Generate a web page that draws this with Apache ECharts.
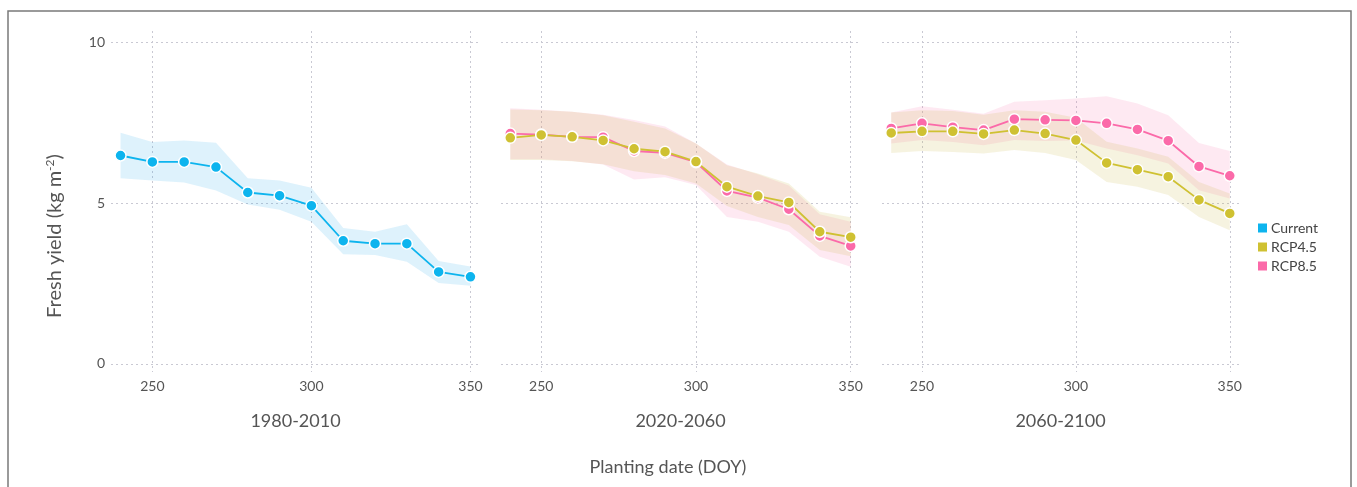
<!DOCTYPE html>
<html>
<head>
<meta charset="utf-8">
<script src="https://cdn.jsdelivr.net/npm/echarts@6/dist/echarts.min.js"></script>
<style>
  html, body { margin: 0; padding: 0; background: #fff; }
  #chart { width: 1357px; height: 487px; }
</style>
</head>
<body>
<div id="chart"></div>
<script>
// Planting dates (day of year)
const doy = [240, 250, 260, 270, 280, 290, 300, 310, 320, 330, 340, 350];

// 1980-2010, current climate
const currentMean = [6.48, 6.28, 6.28, 6.12, 5.33, 5.23, 4.92, 3.83, 3.74, 3.74, 2.86, 2.71];
const currentLow  = [5.77, 5.70, 5.64, 5.39, 4.96, 4.79, 4.42, 3.41, 3.39, 3.18, 2.52, 2.43];
const currentHigh = [7.19, 6.90, 6.95, 6.88, 5.77, 5.70, 5.48, 4.23, 4.11, 4.34, 3.20, 3.03];

// 2020-2060
const rcp45MidMean = [7.03, 7.12, 7.06, 6.95, 6.69, 6.60, 6.29, 5.51, 5.22, 5.02, 4.11, 3.94];
const rcp45MidLow  = [6.34, 6.34, 6.30, 6.21, 5.99, 5.87, 5.61, 4.91, 4.57, 4.32, 3.54, 3.35];
const rcp45MidHigh = [7.91, 7.89, 7.84, 7.73, 7.53, 7.32, 6.85, 6.18, 5.92, 5.61, 4.73, 4.56];
const rcp85MidMean = [7.16, 7.13, 7.06, 7.05, 6.62, 6.56, 6.27, 5.38, 5.17, 4.81, 3.98, 3.67];
const rcp85MidLow  = [6.36, 6.36, 6.31, 6.20, 5.73, 5.80, 5.56, 4.57, 4.42, 4.11, 3.33, 3.02];
const rcp85MidHigh = [7.95, 7.90, 7.84, 7.75, 7.58, 7.38, 6.85, 6.20, 5.90, 5.55, 4.65, 4.42];

// 2060-2100
const rcp45EndMean = [7.18, 7.23, 7.23, 7.15, 7.27, 7.16, 6.96, 6.25, 6.04, 5.82, 5.10, 4.68];
const rcp45EndLow  = [6.56, 6.62, 6.59, 6.54, 6.65, 6.56, 6.34, 5.66, 5.51, 5.25, 4.57, 4.16];
const rcp45EndHigh = [7.82, 7.89, 7.86, 7.75, 7.89, 7.84, 7.65, 6.91, 6.70, 6.44, 5.66, 5.30];
const rcp85EndMean = [7.32, 7.48, 7.36, 7.27, 7.61, 7.59, 7.57, 7.48, 7.29, 6.94, 6.14, 5.85];
const rcp85EndLow  = [6.85, 6.96, 6.90, 6.80, 6.96, 6.93, 6.95, 6.70, 6.49, 6.23, 5.40, 5.14];
const rcp85EndHigh = [7.82, 8.01, 7.90, 7.78, 8.15, 8.20, 8.25, 8.32, 8.10, 7.73, 6.87, 6.62];

const periods = ['1980-2010', '2020-2060', '2060-2100'];
const xTicks = [250, 300, 350];
const yTicks = [0, 5, 10];
const legendNames = ['Current', 'RCP4.5', 'RCP8.5'];

const FONT = 'Lato, "Open Sans", sans-serif';
const TEXT = '#555';
const GRID_LINE = { type: [2, 3], color: '#c9c9d3', width: 1 };

const colors = {
  'Current': { line: '#0db4ee', band: 'rgba(20,160,235,0.14)' },
  'RCP4.5':  { line: '#cfc132', band: 'rgba(200,185,70,0.17)' },
  'RCP8.5':  { line: '#fb6aa9', band: 'rgba(245,110,170,0.15)' }
};

const pairs = (ys) => doy.map((d, i) => [d, ys[i]]);

// Shaded range between low and high, drawn as one polygon per panel
function bandSeries(panel, key, low, high) {
  return {
    type: 'custom', name: 'band-' + panel + '-' + key,
    xAxisIndex: panel, yAxisIndex: panel, silent: true, z: 1,
    data: doy.map((d, i) => [d, low[i], high[i]]),
    encode: { x: 0, y: [1, 2] },
    renderItem: function (params, api) {
      if (params.dataIndex !== 0) return null;
      const upper = doy.map((d, i) => api.coord([d, high[i]]));
      const lower = doy.map((d, i) => api.coord([d, low[i]])).reverse();
      return {
        type: 'polygon',
        shape: { points: upper.concat(lower) },
        style: { fill: colors[key].band, stroke: null }
      };
    }
  };
}

function meanSeries(panel, key, mean) {
  return {
    type: 'line', name: key, xAxisIndex: panel, yAxisIndex: panel,
    data: pairs(mean), symbol: 'circle', symbolSize: 11, showAllSymbol: true, z: 3,
    lineStyle: { color: colors[key].line, width: 1.8 },
    itemStyle: { color: colors[key].line, borderColor: '#fff', borderWidth: 1.5 }
  };
}

const gridBoxes = [
  { left: 111, width: 369 },
  { left: 501, width: 359 },
  { left: 882, width: 357 }
];

const option = {
  animation: false,
  backgroundColor: '#fff',
  textStyle: { fontFamily: FONT },
  grid: gridBoxes.map(g => ({ left: g.left, width: g.width, top: 31, height: 341, containLabel: false })),
  xAxis: periods.map((p, i) => ({
    type: 'value', gridIndex: i, min: 237, max: 353,
    axisLine: { show: false },
    axisTick: { show: false, customValues: xTicks },
    axisLabel: { customValues: xTicks, color: TEXT, fontSize: 14, margin: 7, fontFamily: FONT },
    splitLine: { show: true, lineStyle: GRID_LINE },
    name: p, nameLocation: 'middle', nameGap: 49,
    nameTextStyle: { color: TEXT, fontSize: 18, fontFamily: FONT, verticalAlign: 'middle' }
  })),
  yAxis: periods.map((p, i) => ({
    type: 'value', gridIndex: i, min: -0.25, max: 10.35,
    axisLine: { show: false },
    axisTick: { show: false, customValues: yTicks },
    axisLabel: { show: i === 0, customValues: yTicks, color: TEXT, fontSize: 14, margin: 6, fontFamily: FONT },
    splitLine: { show: true, lineStyle: GRID_LINE }
  })),
  legend: {
    data: legendNames,
    orient: 'vertical', left: 1253, top: 216,
    icon: 'rect', itemWidth: 9, itemHeight: 9, itemGap: 5,
    itemStyle: { borderWidth: 0 },
    textStyle: { color: '#444', fontSize: 14, fontFamily: FONT, padding: [0, 0, 0, -1] }
  },
  graphic: [
    {
      type: 'rect', silent: true, z: -1,
      shape: { x: 8, y: 11, width: 1343, height: 500 },
      style: { fill: 'none', stroke: '#7a7a7a', lineWidth: 1.5 }
    },
    {
      type: 'text', x: 668, y: 467, silent: true,
      style: { text: 'Planting date (DOY)', fill: TEXT, fontSize: 18, fontFamily: FONT,
               textAlign: 'center', textVerticalAlign: 'middle' }
    },
    {
      type: 'text', x: 55, y: 236, rotation: Math.PI / 2, silent: true,
      style: {
        text: '{t|Fresh yield (kg m}{s|-2}{t|)}',
        align: 'center', verticalAlign: 'middle',
        rich: {
          t: { fontSize: 20, fill: TEXT, fontFamily: FONT },
          s: { fontSize: 12, fill: TEXT, fontFamily: FONT, verticalAlign: 'top', padding: [0, 0, 9, 0] }
        }
      }
    }
  ],
  series: [
    bandSeries(0, 'Current', currentLow, currentHigh),
    meanSeries(0, 'Current', currentMean),

    bandSeries(1, 'RCP8.5', rcp85MidLow, rcp85MidHigh),
    bandSeries(1, 'RCP4.5', rcp45MidLow, rcp45MidHigh),
    meanSeries(1, 'RCP8.5', rcp85MidMean),
    meanSeries(1, 'RCP4.5', rcp45MidMean),

    bandSeries(2, 'RCP8.5', rcp85EndLow, rcp85EndHigh),
    bandSeries(2, 'RCP4.5', rcp45EndLow, rcp45EndHigh),
    meanSeries(2, 'RCP8.5', rcp85EndMean),
    meanSeries(2, 'RCP4.5', rcp45EndMean)
  ]
};

const chart = echarts.init(document.getElementById('chart'), null, { renderer: 'canvas' });
chart.setOption(option);
</script>
</body>
</html>
